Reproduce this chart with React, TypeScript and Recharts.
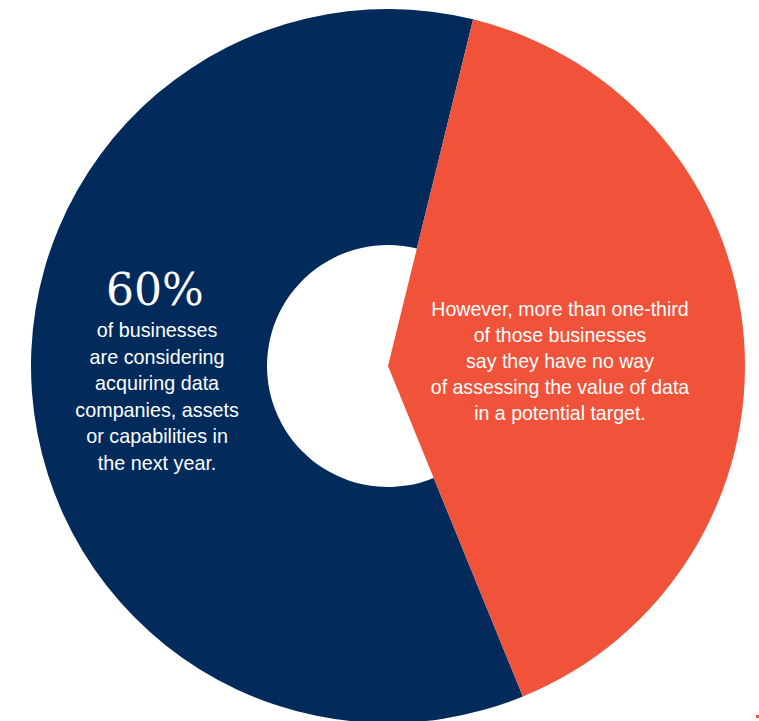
import { PieChart, Pie, Cell } from "recharts";

const categories = ["No way of valuing data", "Considering data acquisitions"];
const shares = [40, 60];
const headline = "60%";
const leftLines = [
  "of businesses",
  "are considering",
  "acquiring data",
  "companies, assets",
  "or capabilities in",
  "the next year.",
];
const rightLines = [
  "However, more than one-third",
  "of those businesses",
  "say they have no way",
  "of assessing the value of data",
  "in a potential target.",
];

const NAVY = "#022B5B";
const ORANGE = "#F05339";

const data = categories.map((name, i) => ({ name, value: shares[i] }));

const sans = "'Liberation Sans Narrow', 'Liberation Sans', Arial, sans-serif";

export default function App() {
  return (
    <div style={{ position: "absolute", left: 0, top: 0, width: 759, height: 721, background: "#fff", overflow: "hidden" }}>
      <PieChart width={759} height={721} margin={{ top: 0, right: 0, bottom: 0, left: 0 }}>
        {/* navy part is a ring */}
        <Pie
          data={data}
          dataKey="value"
          cx={388}
          cy={366}
          innerRadius={121}
          outerRadius={357}
          startAngle={76.2}
          endAngle={-283.8}
          stroke="none"
          isAnimationActive={false}
        >
          <Cell fill="transparent" />
          <Cell fill={NAVY} />
        </Pie>
        {/* orange part goes all the way to the centre */}
        <Pie
          data={data}
          dataKey="value"
          cx={388}
          cy={366}
          innerRadius={0}
          outerRadius={357}
          startAngle={76.2}
          endAngle={-283.8}
          stroke="none"
          isAnimationActive={false}
        >
          <Cell fill={ORANGE} />
          <Cell fill="transparent" />
        </Pie>
      </PieChart>

      <div
        style={{
          position: "absolute",
          left: 55,
          top: 265,
          width: 200,
          textAlign: "center",
          color: "#fff",
          fontFamily: "'DejaVu Serif', serif",
          fontSize: 44,
          lineHeight: "50px",
        }}
      >
        {headline}
      </div>

      <div
        style={{
          position: "absolute",
          left: 35,
          top: 317,
          width: 240,
          textAlign: "center",
          color: "#fff",
          fontFamily: sans,
          fontSize: 21,
          lineHeight: "26.6px",
          transform: "scaleX(0.94)",
          transformOrigin: "155px 0",
        }}
      >
        {leftLines.map((t) => (
          <div key={t}>{t}</div>
        ))}
      </div>

      <div
        style={{
          position: "absolute",
          left: 400,
          top: 296,
          width: 320,
          textAlign: "center",
          color: "#fff",
          fontFamily: sans,
          fontSize: 21,
          lineHeight: "26px",
          transform: "scaleX(0.93)",
          transformOrigin: "160px 0",
        }}
      >
        {rightLines.map((t) => (
          <div key={t}>{t}</div>
        ))}
      </div>

      <div style={{ position: "absolute", left: 756, top: 715, width: 3, height: 3, background: ORANGE }} />
    </div>
  );
}
